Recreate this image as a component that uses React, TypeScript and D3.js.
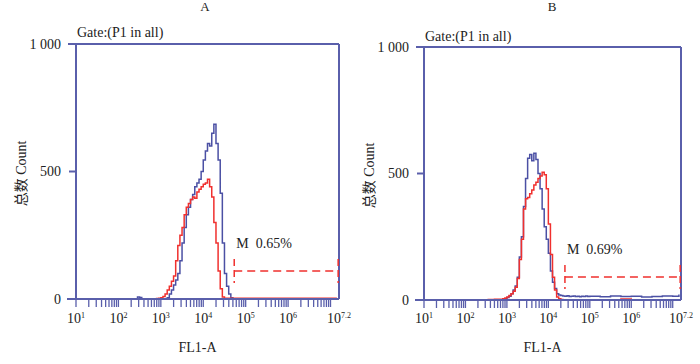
import React from "react";
import * as d3 from "d3";

// ---------- data ----------
const panelTitles = ["A", "B"];
const gateLabel = "Gate:(P1 in all)";
const xTitle = "FL1-A";
const yTitle = "总数 Count";

const xTickValues = [1, 2, 3, 4, 5, 6, 7.2];
const xTickExponents = ["1", "2", "3", "4", "5", "6", "7.2"];
const yTickValues = [0, 500, 1000];
const yTickLabels = ["0", "500", "1 000"];

// histogram bins (log10 of FL1-A)
const bins = [
  2.40, 2.45, 2.50, 2.55, 2.60, 2.65, 2.70, 2.75, 2.80, 2.85,
  2.90, 2.95, 3.00, 3.05, 3.10, 3.15, 3.20, 3.25, 3.30, 3.35,
  3.40, 3.45, 3.50, 3.55, 3.60, 3.65, 3.70, 3.75, 3.80, 3.85,
  3.90, 3.95, 4.00, 4.05, 4.10, 4.15, 4.20, 4.25, 4.30, 4.35,
  4.40, 4.45, 4.50, 4.55, 4.60, 4.65, 4.70, 4.75, 4.80, 4.85,
  4.90, 4.95,
];
const tailBins = [5.00, 5.25, 5.50, 5.75, 6.00, 6.25, 6.50, 6.75, 7.00, 7.15];

const blueA = [
  0, 8, 6, 0, 0, 0, 0, 0, 0, 0,
  0, 0, 0, 0, 0, 5, 20, 35, 55, 75,
  100, 150, 220, 280, 330, 360, 390, 410, 440, 455,
  470, 500, 545, 580, 610, 600, 650, 685, 610, 545,
  415, 220, 100, 50, 20, 5, 0, 0, 0, 0,
  0, 0,
];
const redA = [
  0, 0, 0, 0, 0, 0, 0, 0, 0, 1,
  2, 3, 5, 10, 20, 35, 50, 70, 90, 150,
  210, 250, 280, 330, 360, 375, 390, 400, 395, 420,
  430, 440, 450, 455, 470, 440, 400, 300, 220, 110,
  40, 8, 3, 3, 3, 3, 3, 3, 3, 3,
  3, 3,
];
const blueB = [
  0, 0, 0, 0, 0, 0, 0, 0, 0, 0,
  2, 5, 10, 15, 25, 40, 55, 90, 170, 250,
  370, 480, 560, 575, 550, 580, 555, 500, 440, 360,
  290, 240, 185, 115, 70, 45, 25, 20, 18, 16,
  15, 17, 14, 15, 16, 14, 15, 13, 15, 14,
  16, 14,
];
const redB = [
  0, 0, 0, 2, 2, 2, 3, 3, 3, 3,
  5, 8, 12, 18, 25, 35, 50, 85, 160, 240,
  360, 400, 405, 420, 435, 455, 465, 480, 490, 505,
  495, 440, 300, 180, 90, 40, 12, 5, 2, 0,
  0, 0, 0, 0, 0, 0, 0, 0, 0, 0,
  0, 0,
];
const blueTailA = [0, 0, 0, 0, 0, 0, 0, 0, 0, 0];
const redTailA = [3, 3, 3, 3, 3, 3, 3, 3, 3, 3];
const blueTailB = [15, 13, 16, 14, 15, 12, 14, 16, 15, 22];
const redTailB = [0, 0, 0, 4, 0, 0, 0, 0, 0, 0];

// marker gate M: [start log, end log, level count]
const gateA = [4.73, 7.18, 110];
const gateB = [4.40, 7.18, 91];
const gateTexts = ["M  0.65%", "M  0.69%"];

// ---------- layout ----------
const W = 700;
const H = 364;
const FONT = "'Liberation Serif', 'Times New Roman', 'Noto Sans CJK SC', serif";
const FRAME = "#5a5fab";
const BLUE = "#4b50a4";
const RED = "#f0302e";
const TEXT = "#222";

const panels = [
  { left: 76, right: 339, top: 44, bottom: 299, blue: blueA, red: redA, blueTail: blueTailA, redTail: redTailA, gate: gateA, gateText: gateTexts[0], titleX: 205, gateY: 37 },
  { left: 424, right: 681, top: 47, bottom: 300, blue: blueB, red: redB, blueTail: blueTailB, redTail: redTailB, gate: gateB, gateText: gateTexts[1], titleX: 552, gateY: 41 },
];

function Panel({ p, idx }: { p: any; idx: number }) {
  const x = d3.scaleLinear().domain([1, 7.2]).range([p.left, p.right]);
  const y = d3.scaleLinear().domain([0, 1000]).range([p.bottom, p.top]);
  const line = d3
    .line<[number, number]>()
    .x((d) => x(d[0]))
    .y((d) => y(d[1]))
    .curve(d3.curveStepAfter);

  const series = (main: number[], tail: number[]) => {
    const pts: [number, number][] = bins.map((b, i) => [b, main[i]]);
    tailBins.forEach((b, i) => pts.push([b, tail[i]]));
    return line(pts) || "";
  };

  const minorTicks: number[] = [];
  for (let dec = 1; dec <= 7; dec++) {
    for (let m = 1; m <= 9; m++) {
      const v = dec + Math.log10(m);
      if (v <= 7.2) minorTicks.push(v);
    }
  }

  const [gs, ge, gl] = p.gate;
  const gy = y(gl);
  const T = { fontFamily: FONT, fill: TEXT } as any;

  return (
    <g>
      <text {...T} x={p.titleX} y={11} textAnchor="middle" fontSize={13}>
        {panelTitles[idx]}
      </text>
      <text {...T} x={p.left + 1} y={p.gateY} fontSize={14}>
        {gateLabel}
      </text>

      <path d={series(p.blue, p.blueTail)} fill="none" stroke={BLUE} strokeWidth={1.5} />
      <path d={series(p.red, p.redTail)} fill="none" stroke={RED} strokeWidth={1.5} />

      <line x1={p.left} x2={p.left} y1={y(1000)} y2={y(0)} stroke={FRAME} strokeWidth={2} />
      <line x1={p.right} x2={p.right} y1={y(1000)} y2={y(0)} stroke={FRAME} strokeWidth={2} />
      <line x1={p.left - 8} x2={p.right} y1={y(1000)} y2={y(1000)} stroke={FRAME} strokeWidth={2} />
      <line x1={p.left - 9} x2={p.right} y1={y(0)} y2={y(0)} stroke={FRAME} strokeWidth={2} />
      <line x1={p.left - 7} x2={p.left} y1={y(500)} y2={y(500)} stroke={FRAME} strokeWidth={2} />

      {minorTicks.map((v, i) => (
        <line key={i} x1={x(v)} x2={x(v)} y1={y(0)} y2={y(0) + 8} stroke={FRAME} strokeWidth={1.3} />
      ))}

      {yTickValues.map((v, i) => (
        <text {...T} key={i} x={p.left - 15} y={y(v) + 4.5} textAnchor="end" fontSize={14}>
          {yTickLabels[i]}
        </text>
      ))}

      {xTickValues.map((v, i) => (
        <text {...T} key={i} x={x(v)} y={323} textAnchor="middle" fontSize={14}>
          10
          <tspan fontSize={8} dy={-5}>
            {xTickExponents[i]}
          </tspan>
        </text>
      ))}

      <text {...T} x={(p.left + p.right) / 2 - 10} y={352} textAnchor="middle" fontSize={14}>
        {xTitle}
      </text>
      <text
        {...T}
        transform={`translate(${p.left - 50},${(p.top + p.bottom) / 2 + 2}) rotate(-90)`}
        textAnchor="middle"
        fontSize={14}
      >
        {yTitle}
      </text>

      <line x1={x(gs)} x2={x(ge)} y1={gy} y2={gy} stroke={RED} strokeWidth={1.5} strokeDasharray="8,5" />
      <line x1={x(gs)} x2={x(gs)} y1={gy - 12} y2={gy + 12} stroke={RED} strokeWidth={1.5} strokeDasharray="7,4" />
      <line x1={x(ge)} x2={x(ge)} y1={gy - 12} y2={gy + 12} stroke={RED} strokeWidth={1.5} strokeDasharray="7,4" />
      <text {...T} x={x(gs) + 2} y={gy - 23} fontSize={14} style={{ whiteSpace: "pre" }}>
        {p.gateText}
      </text>
    </g>
  );
}

export default function App() {
  return (
    <svg
      width={W}
      height={H}
      viewBox={`0 0 ${W} ${H}`}
      style={{ position: "fixed", left: 0, top: 0, background: "#fff" }}
    >
      <rect width={W} height={H} fill="#fff" />
      {panels.map((p, i) => (
        <Panel key={i} p={p} idx={i} />
      ))}
    </svg>
  );
}
